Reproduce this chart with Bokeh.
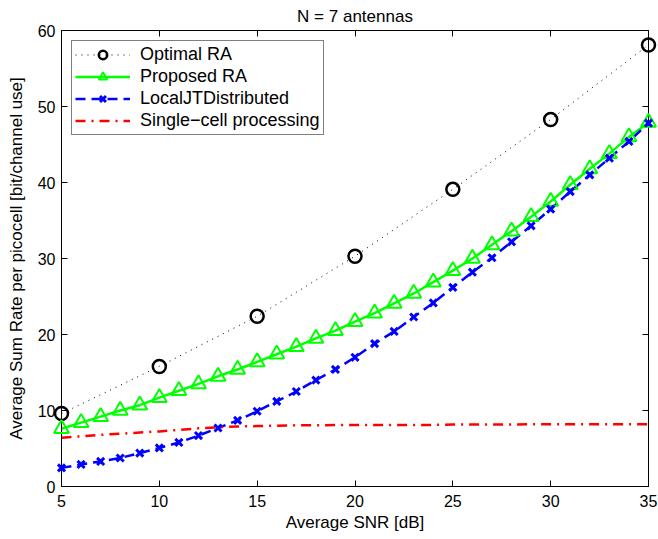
from bokeh.plotting import figure
from bokeh.models import (Range1d, FixedTicker, LinearAxis, Legend, LegendItem, Title,
                          CustomJSTickFormatter)
from bokeh.embed import file_html
from bokeh.resources import INLINE

# ---- data ----
snr_opt = [5, 10, 15, 20, 25, 30, 35]
rate_opt = [9.6, 15.8, 22.4, 30.3, 39.1, 48.3, 58.1]

snr = list(range(5, 36))
rate_proposed = [7.6, 8.4, 9.2, 10.0, 10.7, 11.7, 12.6, 13.5, 14.5, 15.4, 16.4,
                 17.4, 18.4, 19.5, 20.5, 21.7, 22.8, 24.1, 25.4, 26.9, 28.4,
                 30.0, 31.8, 33.6, 35.5, 37.5, 39.7, 41.8, 43.8, 46.0, 47.9]
rate_localjt = [2.45, 2.9, 3.3, 3.75, 4.4, 5.07, 5.8, 6.7, 7.7, 8.7, 9.9,
                11.2, 12.5, 14.0, 15.4, 17.0, 18.8, 20.4, 22.3, 24.15, 26.2,
                28.2, 30.1, 32.2, 34.3, 36.5, 38.8, 41.0, 43.2, 45.4, 47.8]
rate_single = [6.4, 6.6, 6.8, 6.95, 7.1, 7.25, 7.45, 7.65, 7.8, 7.9, 7.95,
               8.0, 8.05, 8.05, 8.1, 8.1, 8.1, 8.1, 8.1, 8.1, 8.15,
               8.15, 8.15, 8.15, 8.2, 8.2, 8.2, 8.2, 8.2, 8.2, 8.2]

x_ticks = [5, 10, 15, 20, 25, 30, 35]
y_ticks = [0, 10, 20, 30, 40, 50, 60]

title_text = "N = 7 antennas"
x_label = "Average SNR [dB]"
y_label = "Average Sum Rate per picocell [bit/channel use]"
names = ["Optimal RA", "Proposed RA", "LocalJTDistributed", "Single\u2212cell processing"]

FONT = "Liberation Sans"

p = figure(width=658, height=539, output_backend="svg", toolbar_location=None,
           x_range=Range1d(5, 35), y_range=Range1d(0, 60),
           min_border_left=61, min_border_right=10, min_border_top=28,
           min_border_bottom=53)

p.title = Title(text=title_text, align="center", text_font=FONT,
                text_font_size="17px", text_font_style="normal",
                text_color="black", offset=0, standoff=9)

p.xgrid.grid_line_color = None
p.ygrid.grid_line_color = None
p.outline_line_color = "black"
p.outline_line_width = 1
p.background_fill_color = "white"
p.border_fill_color = "white"

def style_axis(ax, ticks, show_labels=True):
    ax.ticker = FixedTicker(ticks=ticks)
    ax.major_tick_in = 6
    ax.major_tick_out = 0
    ax.minor_tick_line_color = None
    ax.axis_line_color = "black"
    ax.major_tick_line_color = "black"
    ax.major_label_text_font = FONT
    ax.major_label_text_color = "black"
    ax.major_label_text_font_size = "16px"
    if not show_labels:
        ax.formatter = CustomJSTickFormatter(code="return '';")
        ax.major_label_standoff = 0

style_axis(p.xaxis[0], x_ticks)
style_axis(p.yaxis[0], y_ticks)
p.xaxis[0].major_label_standoff = 8
p.yaxis[0].major_label_standoff = 6
p.xaxis[0].axis_label = x_label
p.yaxis[0].axis_label = y_label
for ax in (p.xaxis[0], p.yaxis[0]):
    ax.axis_label_text_font = FONT
    ax.axis_label_text_font_size = "17px"
    ax.axis_label_text_font_style = "normal"
    ax.axis_label_text_color = "black"
p.xaxis[0].axis_label_standoff = 3
p.yaxis[0].axis_label_standoff = 9

top_ax = LinearAxis()
right_ax = LinearAxis()
style_axis(top_ax, x_ticks, show_labels=False)
style_axis(right_ax, y_ticks, show_labels=False)
p.add_layout(top_ax, "above")
p.add_layout(right_ax, "right")

# ---- series ----
l_opt = p.line(snr_opt, rate_opt, line_color="black", line_width=1, line_dash="1 5")
m_opt = p.scatter(snr_opt, rate_opt, marker="circle", size=13, line_color="black",
                  line_width=2.5, fill_color=None, level="overlay")

l_prop = p.line(snr, rate_proposed, line_color="#00FF00", line_width=2.5)
m_prop = p.scatter(snr, rate_proposed, marker="triangle", size=15, line_color="#00FF00",
                   line_width=2, fill_color=None, level="overlay")

l_loc = p.line(snr, rate_localjt, line_color="#0000FF", line_width=2.5, line_dash="10 6")
m_loc = p.scatter(snr, rate_localjt, marker="x", size=10, line_color="#0000FF",
                  line_width=3, level="overlay")

l_sing = p.line(snr, rate_single, line_color="#FF0000", line_width=2.5, line_dash="10 6 2 6")

legend = Legend(items=[
    LegendItem(label=names[0], renderers=[l_opt, m_opt]),
    LegendItem(label=names[1], renderers=[l_prop, m_prop]),
    LegendItem(label=names[2], renderers=[l_loc, m_loc]),
    LegendItem(label=names[3], renderers=[l_sing]),
], location="top_left")
legend.margin = 10
legend.padding = 3
legend.spacing = 1
legend.label_height = 21
legend.glyph_height = 21
legend.glyph_width = 55
legend.label_standoff = 10
legend.label_text_font = FONT
legend.label_text_font_size = "18px"
legend.label_text_color = "black"
legend.border_line_color = "black"
legend.border_line_width = 1
legend.background_fill_color = "white"
legend.background_fill_alpha = 1.0
p.add_layout(legend, "center")

open("out.html", "w").write(file_html(p, INLINE))
